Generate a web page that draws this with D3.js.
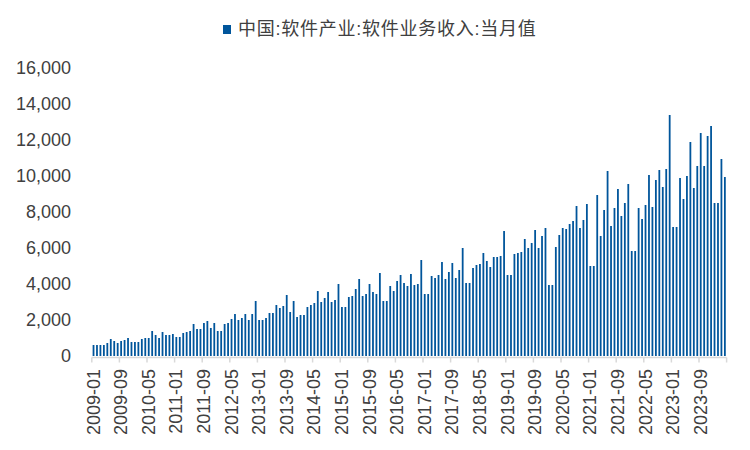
<!DOCTYPE html>
<html>
<head>
<meta charset="utf-8">
<script src="https://cdn.jsdelivr.net/npm/d3@7/dist/d3.min.js"></script>
<style>
  body { margin: 0; background: #fff; }
  svg { display: block; font-family: "Liberation Sans", Arial, "Noto Sans CJK SC", sans-serif; }
</style>
</head>
<body>
<div id="chart"></div>
<script>
const seriesName = "中国:软件产业:软件业务收入:当月值";

// monthly values (Jan/Feb share one value)
const rev2009 = [611, 611, 611, 611, 722, 944, 833, 722, 833, 889, 1000, 778];
const rev2010 = [778, 778, 944, 1000, 1000, 1389, 1167, 1000, 1333, 1167, 1167, 1222];
const rev2011 = [1056, 1056, 1278, 1333, 1389, 1778, 1500, 1500, 1833, 1944, 1556, 1833];
const rev2012 = [1389, 1389, 1778, 1833, 2056, 2333, 2000, 2111, 2333, 2000, 2333, 3056];
const rev2013 = [2000, 2000, 2111, 2389, 2389, 2833, 2667, 2778, 3389, 2444, 3056, 2167];
const rev2014 = [2278, 2278, 2722, 2833, 2944, 3611, 3000, 3222, 3556, 3000, 3111, 4000];
const rev2015 = [2722, 2722, 3278, 3333, 3722, 4278, 3333, 3444, 4000, 3556, 3444, 4611];
const rev2016 = [3056, 3056, 3889, 3611, 4167, 4500, 4056, 3889, 4556, 3944, 4000, 5333];
const rev2017 = [3444, 3444, 4444, 4333, 4500, 5222, 4278, 4667, 5167, 4333, 4778, 6000];
const rev2018 = [4056, 4056, 4889, 5056, 5111, 5722, 5278, 4944, 5500, 5500, 5556, 6944];
const rev2019 = [4500, 4500, 5667, 5722, 5778, 6500, 6000, 6278, 7000, 6000, 6667, 7111];
const rev2020 = [3944, 3944, 6056, 6722, 7111, 7056, 7333, 7500, 8333, 7111, 7556, 8444];
const rev2021 = [5000, 5000, 8944, 6667, 8111, 10278, 7222, 8222, 9278, 7778, 8500, 9556];
const rev2022 = [5833, 5833, 8222, 7611, 8389, 10056, 8278, 9778, 10333, 9389, 10389, 13389];
const rev2023 = [7167, 7167, 9889, 8722, 10000, 11889, 9333, 10556, 12389, 10556, 12222, 12778];
const rev2024 = [8500, 8500, 10944, 9944];

const yearRows = [
  [2009, rev2009], [2010, rev2010], [2011, rev2011], [2012, rev2012],
  [2013, rev2013], [2014, rev2014], [2015, rev2015], [2016, rev2016],
  [2017, rev2017], [2018, rev2018], [2019, rev2019], [2020, rev2020],
  [2021, rev2021], [2022, rev2022], [2023, rev2023], [2024, rev2024]
];

const tickLabels = [
  "2009-01", "2009-09", "2010-05", "2011-01", "2011-09", "2012-05",
  "2013-01", "2013-09", "2014-05", "2015-01", "2015-09", "2016-05",
  "2017-01", "2017-09", "2018-05", "2019-01", "2019-09", "2020-05",
  "2021-01", "2021-09", "2022-05", "2023-01", "2023-09"
];

const yTicks = [0, 2000, 4000, 6000, 8000, 10000, 12000, 14000, 16000];

const data = [];
yearRows.forEach(([year, vals]) => {
  vals.forEach((v, i) => {
    data.push({ month: `${year}-${String(i + 1).padStart(2, "0")}`, value: v });
  });
});

const width = 750;
const height = 450;
const barColor = "#00559B";
const textColor = "#404040";

const svg = d3.select("#chart").append("svg")
  .attr("width", width)
  .attr("height", height);

const pad = 0.48;
const x = d3.scaleBand()
  .domain(data.map(d => d.month))
  .range([91.8, 726.6])
  .paddingInner(pad)
  .paddingOuter(pad / 2);

const y = d3.scaleLinear()
  .domain([0, 16000])
  .range([356, 68]);

// bars
svg.append("g")
  .selectAll("rect")
  .data(data)
  .join("rect")
  .attr("x", d => x(d.month))
  .attr("y", d => y(d.value))
  .attr("width", x.bandwidth())
  .attr("height", d => y(0) - y(d.value))
  .attr("fill", barColor);

// y labels
svg.append("g")
  .selectAll("text")
  .data(yTicks)
  .join("text")
  .attr("x", 71)
  .attr("y", d => y(d))
  .attr("dy", "0.35em")
  .attr("text-anchor", "end")
  .attr("font-size", 18)
  .attr("fill", textColor)
  .text(d => d3.format(",")(d));

// x axis line + tick marks at category boundaries
const step = x.step();
const axisY = 357.5;
const xr = x.range();
svg.append("line")
  .attr("x1", xr[0]).attr("x2", xr[1])
  .attr("y1", axisY).attr("y2", axisY)
  .attr("stroke", "#d9d9d9")
  .attr("stroke-width", 1.5);

const tickPos = d3.range(0, data.length + 1, 8).map(i => xr[0] + i * step);
svg.append("g")
  .selectAll("line")
  .data(tickPos)
  .join("line")
  .attr("x1", d => d).attr("x2", d => d)
  .attr("y1", axisY).attr("y2", axisY + 5)
  .attr("stroke", "#d9d9d9")
  .attr("stroke-width", 1.5);

// x labels
svg.append("g")
  .selectAll("text")
  .data(tickLabels)
  .join("text")
  .attr("transform", d => `translate(${x(d) + x.bandwidth() / 2 + 6},369) rotate(-90)`)
  .attr("text-anchor", "end")
  .attr("font-size", 18)
  .attr("fill", textColor)
  .text(d => d);

// legend
svg.append("rect")
  .attr("x", 223).attr("y", 25)
  .attr("width", 8).attr("height", 9)
  .attr("fill", barColor);

svg.append("text")
  .attr("x", 238)
  .attr("y", 35)
  .attr("font-size", 18)
  .attr("letter-spacing", 0.75)
  .attr("fill", textColor)
  .text(seriesName);
</script>
</body>
</html>
